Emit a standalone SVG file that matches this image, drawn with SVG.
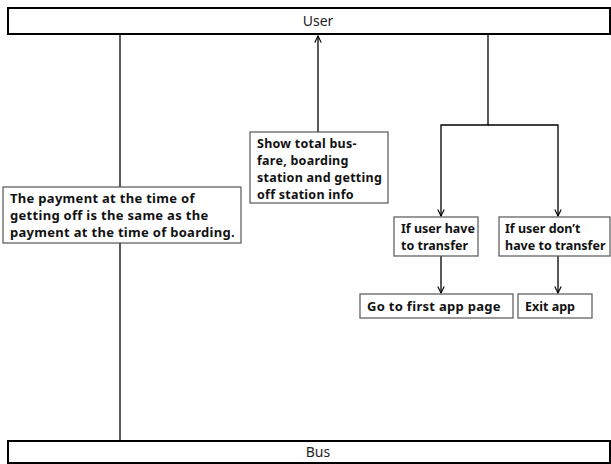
<svg xmlns="http://www.w3.org/2000/svg" width="611" height="464" viewBox="0 0 611 464">
<defs>
<marker id="ah" viewBox="0 0 10 10" refX="9" refY="5" markerWidth="8" markerHeight="8" markerUnits="userSpaceOnUse" orient="auto">
<path d="M1,1 L9,5 L1,9" fill="none" stroke="#000" stroke-width="1.4"/>
</marker>
<style>
.lane{fill:#fff;stroke:#000;stroke-width:2}
.box{fill:#fff;stroke:#555;stroke-width:1.2}
.lt{font-family:"Noto Sans","DejaVu Sans",sans-serif;font-size:14px;fill:#222;text-anchor:middle}
.bt{font-family:"Noto Sans","DejaVu Sans",sans-serif;font-size:12.5px;font-weight:bold;fill:#111}
.wide{font-size:13px;letter-spacing:0.3px}
.mid{letter-spacing:0.25px}
.c{fill:none;stroke:#000;stroke-width:1.3}
</style>
</defs>
<rect width="611" height="464" fill="#fff"/>
<g id="connectors">
<line class="c" x1="120" y1="35" x2="120" y2="187"/>
<line class="c" x1="120" y1="243" x2="120" y2="440"/>
<line class="c" x1="318" y1="132" x2="318" y2="36" marker-end="url(#ah)"/>
<polyline class="c" points="488,35 488,125 441,125 441,216" marker-end="url(#ah)"/>
<polyline class="c" points="488,125 558,125 558,216" marker-end="url(#ah)"/>
<line class="c" x1="441" y1="256" x2="441" y2="293" marker-end="url(#ah)"/>
<line class="c" x1="558" y1="256" x2="558" y2="293" marker-end="url(#ah)"/>
</g>
<g id="user">
<rect class="lane" x="8" y="8" width="602" height="26"/>
<text class="lt" x="318" y="26">User</text>
</g>
<g id="bus">
<rect class="lane" x="8" y="441" width="602" height="22"/>
<text class="lt" x="318" y="457">Bus</text>
</g>
<g id="payment">
<rect class="box" x="3" y="187" width="238" height="56"/>
<text class="bt wide" x="10" y="203">The payment at the time of</text>
<text class="bt wide" x="10" y="220">getting off is the same as the</text>
<text class="bt wide" x="10" y="237">payment at the time of boarding.</text>
</g>
<g id="show">
<rect class="box" x="250" y="132" width="138" height="71"/>
<text class="bt mid" x="257" y="148">Show total bus-</text>
<text class="bt mid" x="257" y="165">fare, boarding</text>
<text class="bt mid" x="257" y="182">station and getting</text>
<text class="bt mid" x="257" y="199">off station info</text>
</g>
<g id="transfer">
<rect class="box" x="394" y="217" width="84" height="39"/>
<text class="bt" x="401" y="233">If user have</text>
<text class="bt" x="401" y="250">to transfer</text>
</g>
<g id="notransfer">
<rect class="box" x="499" y="217" width="111" height="39"/>
<text class="bt" x="505" y="233">If user don’t</text>
<text class="bt" x="505" y="250">have to transfer</text>
</g>
<g id="firstpage">
<rect class="box" x="360" y="294" width="153" height="24"/>
<text class="bt wide" x="367" y="311">Go to first app page</text>
</g>
<g id="exit">
<rect class="box" x="518" y="294" width="74" height="24"/>
<text class="bt" x="525" y="311">Exit app</text>
</g>
</svg>
